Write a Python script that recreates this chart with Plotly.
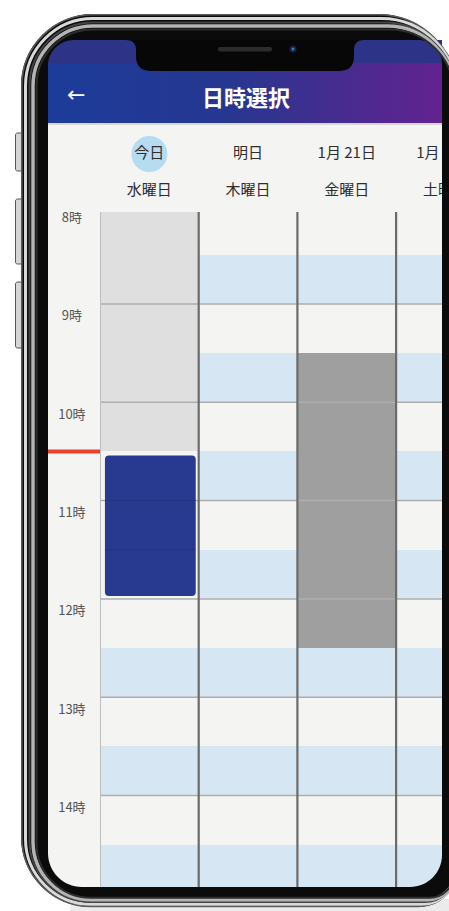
import plotly.graph_objects as go

W, H = 449, 911
FONT = "Noto Sans CJK JP"

# ---------------- data ----------------
day_labels = ["今日", "明日", "1月 21日", "1月 22日"]
weekday_labels = ["水曜日", "木曜日", "金曜日", "土曜日"]
hours = [8, 9, 10, 11, 12, 13, 14]
hour_labels = ["8時", "9時", "10時", "11時", "12時", "13時", "14時"]
slot_starts = [8.0, 8.5, 9.0, 9.5, 10.0, 10.5, 11.0, 11.5, 12.0, 12.5, 13.0, 13.5, 14.0, 14.5]
status_wed = ["past", "past", "past", "past", "past", "selected", "selected", "selected",
              "free", "free", "free", "free", "free", "free"]
status_thu = ["free"] * 14
status_fri = ["free", "free", "free", "booked", "booked", "booked", "booked", "booked",
              "booked", "free", "free", "free", "free", "free"]
status_sat = ["free"] * 14
current_time = 10.5
today_index = 0

statuses = [status_wed, status_thu, status_fri, status_sat]

# ---------------- helpers ----------------
def P(x, y):
    return f"{x / W:.5f},{1 - y / H:.5f}"

def rr_px(x0, y0, x1, y1, radii):
    tl, tr, br, bl = radii
    k = 0.5523
    return (f"M{P(x0 + tl, y0)} L{P(x1 - tr, y0)} "
            f"C{P(x1 - tr + k * tr, y0)} {P(x1, y0 + tr - k * tr)} {P(x1, y0 + tr)} "
            f"L{P(x1, y1 - br)} "
            f"C{P(x1, y1 - br + k * br)} {P(x1 - br + k * br, y1)} {P(x1 - br, y1)} "
            f"L{P(x0 + bl, y1)} "
            f"C{P(x0 + bl - k * bl, y1)} {P(x0, y1 - bl + k * bl)} {P(x0, y1 - bl)} "
            f"L{P(x0, y0 + tl)} "
            f"C{P(x0, y0 + tl - k * tl)} {P(x0 + tl - k * tl, y0)} {P(x0 + tl, y0)} Z")

def rr_data(x0, y0, x1, y1, r):
    return (f"M{x0 + r},{y0} L{x1 - r},{y0} Q{x1},{y0} {x1},{y0 + r} "
            f"L{x1},{y1 - r} Q{x1},{y1} {x1 - r},{y1} L{x0 + r},{y1} "
            f"Q{x0},{y1} {x0},{y1 - r} L{x0},{y0 + r} Q{x0},{y0} {x0 + r},{y0} Z")

# ---------------- grid cells ----------------
def code(st, start):
    if st == "past":
        return 2
    if st == "booked":
        return 3
    if st == "selected":
        return 0
    return 0 if float(start).is_integer() else 1

z = [[code(statuses[c][r], slot_starts[r]) for c in range(len(statuses))]
     for r in range(len(slot_starts))]
col_centers = [i + 0.5 for i in range(len(day_labels))]
row_centers = [s + 0.25 for s in slot_starts]

c0, c1, c2, c3 = "#f4f4f2", "#d6e6f3", "#dfdfdf", "#9e9f9e"
cscale = [[0, c0], [0.25, c0], [0.25, c1], [0.5, c1], [0.5, c2], [0.75, c2], [0.75, c3], [1, c3]]

fig = go.Figure()

fig.add_trace(go.Heatmap(x=col_centers, y=row_centers, z=z, zmin=-0.5, zmax=3.5,
                         colorscale=cscale, showscale=False, hoverinfo="skip",
                         xaxis="x", yaxis="y"))

# header band (dates)
fig.add_trace(go.Scatter(x=[col_centers[today_index]], y=[0], mode="markers",
                         marker=dict(size=36, color="#b7dcf2"), hoverinfo="skip",
                         xaxis="x", yaxis="y3", showlegend=False))
fig.add_trace(go.Scatter(x=col_centers, y=[0] * len(day_labels), text=day_labels,
                         mode="text", textfont=dict(family=FONT, size=15, color="#2e2e2e"),
                         hoverinfo="skip", xaxis="x", yaxis="y3", showlegend=False,
                         cliponaxis=True))
fig.add_trace(go.Scatter(x=col_centers, y=[1] * len(weekday_labels), text=weekday_labels,
                         mode="text", textfont=dict(family=FONT, size=15, color="#2e2e2e"),
                         hoverinfo="skip", xaxis="x", yaxis="y3", showlegend=False,
                         cliponaxis=True))

# hour labels (invisible markers give the label offset below the hour line)
fig.add_trace(go.Scatter(x=[0.46] * len(hours), y=hours, text=hour_labels,
                         mode="markers+text", marker=dict(size=9, opacity=0),
                         textposition="bottom center",
                         textfont=dict(family=FONT, size=13, color="#555555"),
                         hoverinfo="skip", xaxis="x4", yaxis="y", showlegend=False,
                         cliponaxis=True))

# app bar (decoration, pixel axis)
fig.add_trace(go.Scatter(x=[48, 442, 442, 48, 48], y=[40, 40, 64, 64, 40], mode="lines",
                         fill="toself", fillcolor="#2d3386", line=dict(width=0),
                         hoverinfo="skip", xaxis="x2", yaxis="y2", showlegend=False))
fig.add_trace(go.Scatter(x=[48, 442, 442, 48, 48], y=[63, 63, 123, 123, 63], mode="lines",
                         fill="toself", line=dict(width=0),
                         fillgradient=dict(type="horizontal",
                                           colorscale=[[0, "#1c3c9a"], [0.45, "#263790"],
                                                       [1, "#63228f"]]),
                         hoverinfo="skip", xaxis="x2", yaxis="y2", showlegend=False))

shapes = []

SCREEN = (48, 40, 442, 887)
SCREEN_R = (26, 24, 32, 34)

# screen background & shadow (below everything)
shapes.append(dict(type="path", xref="paper", yref="paper", layer="below",
                   path=rr_px(70, 899, 470, 918, (10, 10, 10, 10)),
                   fillcolor="rgba(0,0,0,0.08)", line=dict(width=0)))
shapes.append(dict(type="path", xref="paper", yref="paper", layer="below",
                   path=rr_px(*SCREEN, SCREEN_R), fillcolor="#f4f4f2", line=dict(width=0)))

# hour lines
for h in hours[1:]:
    shapes.append(dict(type="line", xref="x", yref="y", x0=0, x1=len(day_labels), y0=h, y1=h,
                       line=dict(color="#aeaeae", width=1.5), layer="above"))
# column lines
for i in range(len(day_labels)):
    shapes.append(dict(type="line", xref="x", yref="y", x0=i, x1=i, y0=7.5, y1=15.5,
                       line=dict(color="#bdbdbd" if i == 0 else "#6b6b6b",
                                 width=2 if i == 0 else 2.2), layer="above"))

# selected booking block
sel_slots = [slot_starts[r] for r in range(len(slot_starts)) if status_wed[r] == "selected"]
sel_start, sel_end = min(sel_slots), max(sel_slots) + 0.5
shapes.append(dict(type="path", xref="x", yref="y", layer="above",
                   path=rr_data(today_index + 0.05, sel_start + 0.04,
                                today_index + 0.97, sel_end - 0.03, 0.04),
                   fillcolor="#273a8f", line=dict(width=0)))
for s in sel_slots[1:]:
    shapes.append(dict(type="line", xref="x", yref="y", x0=today_index + 0.05,
                       x1=today_index + 0.97, y0=s, y1=s,
                       line=dict(color="rgba(0,0,0,0.12)", width=1), layer="above"))

# current time line
shapes.append(dict(type="line", xref="x4", yref="y", x0=0, x1=1, y0=current_time,
                   y1=current_time, line=dict(color="#e8412d", width=4), layer="above"))

# app bar bottom shadow
shapes.append(dict(type="line", xref="paper", yref="paper", x0=48 / W, x1=442 / W,
                   y0=1 - 124 / H, y1=1 - 124 / H,
                   line=dict(color="rgba(0,0,0,0.12)", width=2), layer="above"))

# side buttons
for (b0, b1) in [(133, 171), (199, 264), (282, 348)]:
    shapes.append(dict(type="path", xref="paper", yref="paper", layer="above",
                       path=rr_px(15.5, b0, 23, b1, (2, 2, 2, 2)), fillcolor="#d6d6d6",
                       line=dict(color="#555555", width=1)))

# phone bezel ring
OX0, OY0, OX1, OY1 = 21, 14, 458, 907
OR = (72, 80, 40, 70)
shapes.append(dict(type="path", xref="paper", yref="paper", layer="above",
                   path=rr_px(OX0, OY0, OX1, OY1, OR) + " " + rr_px(*SCREEN, SCREEN_R),
                   fillrule="evenodd", fillcolor="#0b0b0b", line=dict(width=0)))
for d, col, wd in [(0.8, "#5a5a5a", 1.6), (4.5, "#d9d9d9", 3), (8.5, "#444444", 2),
                   (12, "#b4b4b4", 3.5), (15.5, "#2e2e2e", 2)]:
    shapes.append(dict(type="path", xref="paper", yref="paper", layer="above",
                       path=rr_px(OX0 + d, OY0 + d, OX1 - d * 0.25, OY1 - d * 0.6,
                                  tuple(max(r - d, 4) for r in OR)),
                       fillcolor="rgba(0,0,0,0)", line=dict(color=col, width=wd)))

# notch
notch = (f"M{P(126, 40)} Q{P(136, 40)} {P(136, 50)} L{P(136, 56)} "
         f"Q{P(136, 71)} {P(151, 71)} L{P(339, 71)} Q{P(354, 71)} {P(354, 56)} "
         f"L{P(354, 50)} Q{P(354, 40)} {P(364, 40)} Z")
shapes.append(dict(type="path", xref="paper", yref="paper", layer="above", path=notch,
                   fillcolor="#070707", line=dict(width=0)))
shapes.append(dict(type="path", xref="paper", yref="paper", layer="above",
                   path=rr_px(218, 47, 272, 51.5, (2, 2, 2, 2)), fillcolor="#2c2c2c",
                   line=dict(width=0)))
shapes.append(dict(type="circle", xref="paper", yref="paper", layer="above",
                   x0=289.5 / W, x1=296.5 / W, y0=1 - 52.5 / H, y1=1 - 45.5 / H,
                   fillcolor="#15223c", line=dict(width=0)))
shapes.append(dict(type="circle", xref="paper", yref="paper", layer="above",
                   x0=291.5 / W, x1=294.5 / W, y0=1 - 50.5 / H, y1=1 - 47.5 / H,
                   fillcolor="#3a78c0", line=dict(width=0)))

annotations = [
    dict(x=246 / W, y=1 - 96 / H, xref="paper", yref="paper", text="<b>日時選択</b>",
         xanchor="center", yanchor="middle",
         showarrow=False, font=dict(family=FONT, size=22, color="white")),
    dict(x=76 / W, y=1 - 94 / H, xref="paper", yref="paper", text="←",
         xanchor="center", yanchor="middle",
         showarrow=False, font=dict(family="DejaVu Sans", size=22, color="white")),
]

ncols_visible = (442 - 100) / 98.7
ppx_hr = 98.3
y_top = 8 + (212 - 205.7) / ppx_hr
y_bot = 8 + (887 - 205.7) / ppx_hr

hidden = dict(visible=False, showgrid=False, zeroline=False, fixedrange=True)
fig.update_layout(
    width=W, height=H, margin=dict(l=0, r=0, t=0, b=0),
    paper_bgcolor="white", plot_bgcolor="rgba(0,0,0,0)",
    showlegend=False,
    xaxis=dict(domain=[100 / W, 442 / W], range=[0, ncols_visible], anchor="y", **hidden),
    yaxis=dict(domain=[1 - 887 / H, 1 - 212 / H], range=[y_bot, y_top], anchor="x", **hidden),
    xaxis2=dict(domain=[0, 1], range=[0, W], anchor="y2", **hidden),
    yaxis2=dict(domain=[0, 1], range=[H, 0], anchor="x2", **hidden),
    yaxis3=dict(domain=[1 - 212 / H, 1 - 123 / H], range=[1.566, -0.837], anchor="x", **hidden),
    xaxis4=dict(domain=[48 / W, 100 / W], range=[0, 1], anchor="y", **hidden),
    shapes=shapes,
    annotations=annotations,
)

fig.write_html("out.html", config={"displayModeBar": False},
               post_script="document.body.style.margin='0';document.body.style.overflow='hidden';")
